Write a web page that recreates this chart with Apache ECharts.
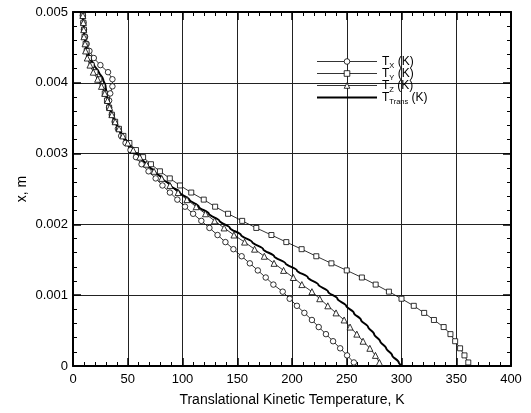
<!DOCTYPE html>
<html><head><meta charset="utf-8">
<script src="https://cdn.jsdelivr.net/npm/echarts@6/dist/echarts.min.js"></script>
<style>html,body{margin:0;padding:0;background:#fff}#c{width:531px;height:413px}</style>
</head><body><div id="c"></div>
<script>
// positions x (m), cell centres
const positions = [0.00005,0.00015,0.00025,0.00035,0.00045,0.00055,0.00065,0.00075,0.00085,0.00095,
  0.00105,0.00115,0.00125,0.00135,0.00145,0.00155,0.00165,0.00175,0.00185,0.00195,
  0.00205,0.00215,0.00225,0.00235,0.00245,0.00255,0.00265,0.00275,0.00285,0.00295,
  0.00305,0.00315,0.00325,0.00335,0.00345,0.00355,0.00365,0.00375,0.00385,0.00395,
  0.00405,0.00415,0.00425,0.00435,0.00445,0.00455,0.00465,0.00475,0.00485,0.00495];
const tX = [256.5,250.3,244,237.5,231,224.4,218.2,211.3,204.5,197.9,
  191.5,183,176,168.8,161.5,154,146.5,139.2,132,124.6,
  117.2,109.7,102.3,95.3,88.5,81.7,75.5,69,62.6,57.5,
  52.5,48,44,41,38,35.5,33,33,34,36,
  36,32,25,19,15,12.5,11,10,9.5,9];
const tY = [361,357.5,353.5,349,344.7,338.5,329.6,320.7,311.2,300,
  288.5,276.4,263.8,250,236,222.2,208.8,194.8,181.2,167.4,
  154.5,141.6,129.8,119.4,108,97.7,88.4,79.4,71.2,64,
  57.5,51.5,46,42,38.5,35.5,33,31,29,27,
  24,20.5,17,14.5,12.5,11.5,10.5,10,9.5,9];
const tZ = [279.8,276.2,271.1,264.9,259.2,253,247.6,240.2,232.7,225.3,
  218.2,209,201.2,192.3,183.6,174.7,165.8,156.7,147,138,
  129.3,121,112.5,104,96,88.5,81,74,67,61,
  55,50,45.5,42,38.5,35.5,33.5,31.5,29,26,
  22.5,18.5,15.5,13,11.5,11,10,9.8,9.5,9];
// T_Trans is drawn from wall to top edge
const transPositions = [0,0.00005,0.00015,0.00025,0.00035,0.00045,0.00055,0.00065,0.00075,0.00085,0.00095,
  0.00105,0.00115,0.00125,0.00135,0.00145,0.00155,0.00165,0.00175,0.00185,0.00195,
  0.00205,0.00215,0.00225,0.00235,0.00245,0.00255,0.00265,0.00275,0.00285,0.00295,
  0.00305,0.00315,0.00325,0.00335,0.00345,0.00355,0.00365,0.00375,0.00385,0.00395,
  0.00405,0.00415,0.00425,0.00435,0.00445,0.00455,0.00465,0.00475,0.00485,0.00495,0.005];
const tTrans = [300.5,297.5,291.5,286,280.5,275,269.5,263,256.5,249.5,241.5,
  233,224,214.5,204.5,194,183.7,173.7,163.6,153.4,143.3,
  133.7,124.1,114.9,106.2,97.5,89.3,81.6,74.1,66.9,60.8,
  55,49.8,45.2,41.7,38.3,35.5,33.2,31.8,30.7,29.7,
  27.5,23.7,19.2,15.5,13,11.7,10.5,9.9,9.5,9,8.8];
const xTickLabels = ['0','50','100','150','200','250','300','350','400'];
const yTickLabels = ['0','0.001','0.002','0.003','0.004','0.005'];
const legendNames = ['Tx','Ty','Tz','Ttrans'];
const legendSubs = {Tx:'X',Ty:'Y',Tz:'Z',Ttrans:'Trans'};

const FF = "'Liberation Sans', Arial, Helvetica, sans-serif";
const pair = (arr, pos) => arr.map((t, i) => [t, pos[i]]);

function axisCommon(show) {
  return {
    axisLine: {show: true, onZero: false, lineStyle: {color: '#000', width: 2}},
    axisTick: {show: true, inside: true, length: 8, lineStyle: {color: '#000', width: 1.5}},
    minorTick: {show: true, splitNumber: 5, length: 4, lineStyle: {color: '#000', width: 1}},
    splitLine: {show: show, lineStyle: {color: '#222', width: 1}}
  };
}

const chart = echarts.init(document.getElementById('c'), null, {renderer: 'canvas'});
const lineSeries = (name, data, symbol, size) => ({
  name, type: 'line', data: pair(data, positions), xAxisIndex: 0, yAxisIndex: 0,
  symbol, symbolSize: size, showAllSymbol: true, animation: false,
  lineStyle: {color: '#000', width: 0.8},
  itemStyle: {color: '#fff', borderColor: '#000', borderWidth: 0.8},
  emphasis: {disabled: true}
});

chart.setOption({
  animation: false,
  textStyle: {fontFamily: FF},
  grid: {left: 73, right: 20, top: 12, bottom: 47},
  xAxis: [
    Object.assign({
      type: 'value', min: 0, max: 400, interval: 50, position: 'bottom',
      name: 'Translational Kinetic Temperature, K', nameLocation: 'middle', nameGap: 27,
      nameMoveOverlap: false,
      nameTextStyle: {fontSize: 14, color: '#000', fontFamily: FF},
      axisLabel: {fontSize: 13, color: '#000', margin: 7, fontFamily: FF,
        formatter: v => xTickLabels[Math.round(v / 50)]}
    }, axisCommon(true)),
    Object.assign({
      type: 'value', min: 0, max: 400, interval: 50, position: 'top',
      axisLabel: {show: false}
    }, axisCommon(false))
  ],
  yAxis: [
    Object.assign({
      type: 'value', min: 0, max: 0.005, interval: 0.001, position: 'left',
      name: 'x, m', nameLocation: 'middle', nameGap: 44, nameRotate: 90,
      nameMoveOverlap: false,
      nameTextStyle: {fontSize: 14, color: '#000', fontFamily: FF},
      axisLabel: {fontSize: 13, color: '#000', margin: 5, fontFamily: FF,
        formatter: v => yTickLabels[Math.round(v / 0.001)]}
    }, axisCommon(true)),
    Object.assign({
      type: 'value', min: 0, max: 0.005, interval: 0.001, position: 'right',
      axisLabel: {show: false}
    }, axisCommon(false))
  ],
  legend: {
    orient: 'vertical', left: 316, top: 53.5, padding: 0,
    itemWidth: 60, itemHeight: 7, itemGap: -4,
    selectedMode: false,
    data: [
      {name: 'Tx', itemStyle: {borderWidth: 0.8}, lineStyle: {width: 0.8}},
      {name: 'Ty', itemStyle: {borderWidth: 0.8}, lineStyle: {width: 0.8}},
      {name: 'Tz', itemStyle: {borderWidth: 0.8}, lineStyle: {width: 0.8}},
      {name: 'Ttrans', itemStyle: {opacity: 0}, lineStyle: {width: 2}}
    ],
    formatter: n => '{t|T}{s|' + legendSubs[n] + '}{t| (K)}',
    textStyle: {
      color: '#000', fontFamily: FF,
      rich: {
        t: {fontSize: 12, lineHeight: 12, color: '#000', fontFamily: FF},
        s: {fontSize: 7.5, lineHeight: 7, padding: [8, 0, 0, 0], color: '#000', fontFamily: FF}
      }
    }
  },
  series: [
    lineSeries('Tx', tX, 'circle', 5.5),
    lineSeries('Ty', tY, 'rect', 5),
    lineSeries('Tz', tZ, 'triangle', 6),
    {
      name: 'Ttrans', type: 'line', data: pair(tTrans, transPositions), symbol: 'none',
      smooth: 0.3, smoothMonotone: 'y',
      lineStyle: {color: '#000', width: 2}, itemStyle: {color: '#000'}, emphasis: {disabled: true}
    }
  ]
});
</script></body></html>
